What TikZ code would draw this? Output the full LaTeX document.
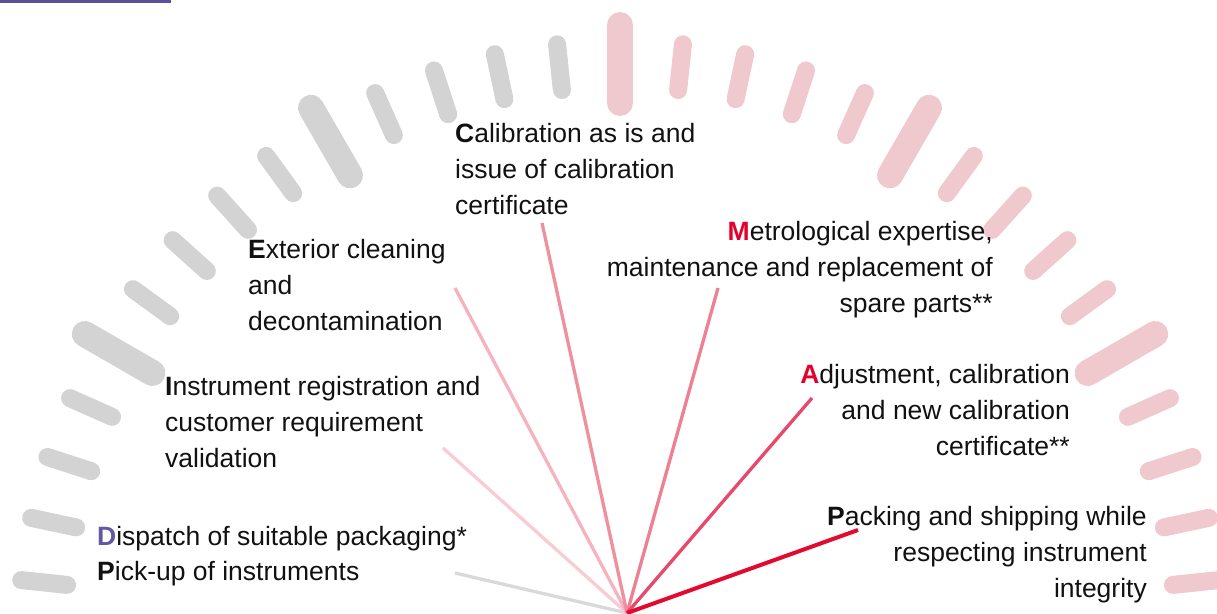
\documentclass[tikz,border=0pt]{standalone}
\usepackage{fontspec}
\setmainfont{Liberation Sans}
\definecolor{tickgray}{HTML}{D3D3D3}
\definecolor{tickpink}{HTML}{EFC9CE}
\definecolor{barpurple}{HTML}{5B4F9B}
\definecolor{letterpurple}{HTML}{6357A0}
\definecolor{brandred}{HTML}{E4002B}
\definecolor{textblack}{HTML}{111111}
\definecolor{ln1}{HTML}{D9D9D9}
\definecolor{ln2}{HTML}{F9CCD4}
\definecolor{ln3}{HTML}{F6B3BF}
\definecolor{ln4}{HTML}{F0909F}
\definecolor{ln5}{HTML}{EE8094}
\definecolor{ln6}{HTML}{E8486A}
\definecolor{ln7}{HTML}{E30A30}
\tikzset{
  bigtick/.style={line width=26pt, line cap=round},
  smalltick/.style={line width=18pt, line cap=round},
  spoke/.style={line width=3.3pt},
  lbl/.style={inner sep=0pt, text=textblack, font=\fontsize{26.5}{36}\selectfont},
}
\begin{document}
\begin{tikzpicture}[x=1pt,y=-1pt]
\useasboundingbox (0,0) rectangle (1217,613);
\clip (0,0) rectangle (1217,613);
\fill[barpurple] (0,0) rectangle (171,3);
% dial ticks
\foreach \a in {30,60,90,120,150}{
  \ifnum\a>90 \def\tc{tickgray}\else\def\tc{tickpink}\fi
  \draw[bigtick,draw=\tc] ({620+540*cos(\a)},{643-540*sin(\a)}) -- ({620+618*cos(\a)},{643-618*sin(\a)});
}
\foreach \a in {0,6,12,18,24,36,42,48,54,66,72,78,84,96,102,108,114,126,132,138,144,156,162,168,174,180}{
  \ifnum\a>90 \def\tc{tickgray}\else\def\tc{tickpink}\fi
  \draw[smalltick,draw=\tc] ({620+556*cos(\a)},{643-556*sin(\a)}) -- ({620+602*cos(\a)},{643-602*sin(\a)});
}
% labels (base anchor = baseline of the last line)
\node[lbl, anchor=base west, align=left] (cal) at (455,214)
  {\textbf{C}alibration as is and\\issue of calibration\\certificate};
\node[lbl, anchor=base west, align=left] (ext) at (248,330)
  {\textbf{E}xterior cleaning\\and\\decontamination};
\node[lbl, anchor=base west, align=left] (ins) at (165,467)
  {\textbf{I}nstrument registration and\\customer requirement\\validation};
\node[lbl, anchor=base west, align=left, font=\fontsize{26.5}{35}\selectfont] (dis) at (97,580)
  {\textbf{\color{letterpurple}D}ispatch of suitable packaging*\\\textbf{P}ick-up of instruments};
\node[lbl, anchor=base east, align=right] (met) at (993,312)
  {\textbf{\color{brandred}M}etrological expertise,\\maintenance and replacement of\\spare parts**};
\node[lbl, anchor=base east, align=right] (adj) at (1070,455)
  {\textbf{\color{brandred}A}djustment, calibration\\and new calibration\\certificate**};
\node[lbl, anchor=base east, align=right] (pac) at (1147,597)
  {\textbf{P}acking and shipping while\\respecting instrument\\integrity};
% spokes
\coordinate (hub) at (627,613);
\coordinate (e1) at (455,573);
\coordinate (e2) at (443,448);
\coordinate (e3) at (455,288);
\coordinate (e4) at (542,223);
\coordinate (e5) at (718,288);
\coordinate (e6) at (812,398);
\coordinate (e7) at (858,530);
\draw[spoke, ln1] (hub) -- (e1);
\draw[spoke, ln2] (hub) -- (e2);
\draw[spoke, ln3] (hub) -- (e3);
\draw[spoke, ln4] (hub) -- (e4);
\draw[spoke, ln5] (hub) -- (e5);
\draw[spoke, ln6] (hub) -- (e6);
\draw[spoke, ln7, line width=4pt] (hub) -- (e7);
\end{tikzpicture}
\end{document}
